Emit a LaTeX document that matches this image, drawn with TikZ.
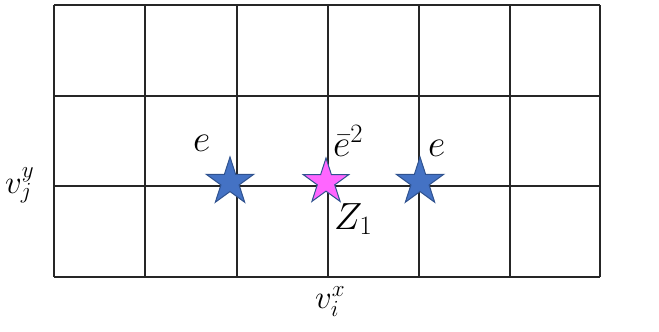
\RequirePackage{fix-cm}
\documentclass[tikz,border=0pt]{standalone}
\usetikzlibrary{shapes.geometric}
\definecolor{starblue}{HTML}{4472C4}
\definecolor{starpink}{HTML}{FF66FF}
\definecolor{starline}{HTML}{2F528F}
\begin{document}
\begin{tikzpicture}[x=1bp,y=-1bp,
  gridline/.style={line width=1.6bp,black!85},
  starmark/.style={star,star points=5,star point ratio=2.618,inner sep=0pt,minimum size=50bp,draw=starline,line width=1bp},
  bigmath/.style={inner sep=0pt,font=\fontsize{38}{40}\selectfont},
  axmath/.style={inner sep=0pt,font=\fontsize{33}{35}\selectfont}]
\useasboundingbox (0,0) rectangle (659,331);
\foreach \x in {54,145,237,328,419,510,600}
  \draw[gridline] (\x,5) -- (\x,277);
\foreach \y in {5,96,186,277}
  \draw[gridline] (54,\y) -- (600,\y);
\node[starmark,fill=starblue] (s1) at (230,182) {};
\node[starmark,fill=starpink,minimum size=48bp] (s2) at (326,182) {};
\node[starmark,fill=starblue] (s3) at (420,182) {};
\node[bigmath,anchor=base west] (e1) at (193,151) {$e$};
\node[bigmath,anchor=base west] (e2) at (333,156) {$\bar{e}^2$};
\node[bigmath,anchor=base west] (e3) at (428,156) {$e$};
\node[bigmath,anchor=base west] (z1) at (334,229) {$Z_1$};
\node[axmath,anchor=base west] (vy) at (5,193) {$v_j^y$};
\node[axmath,anchor=base west] (vx) at (315,308) {$v_i^x$};
\end{tikzpicture}
\end{document}
